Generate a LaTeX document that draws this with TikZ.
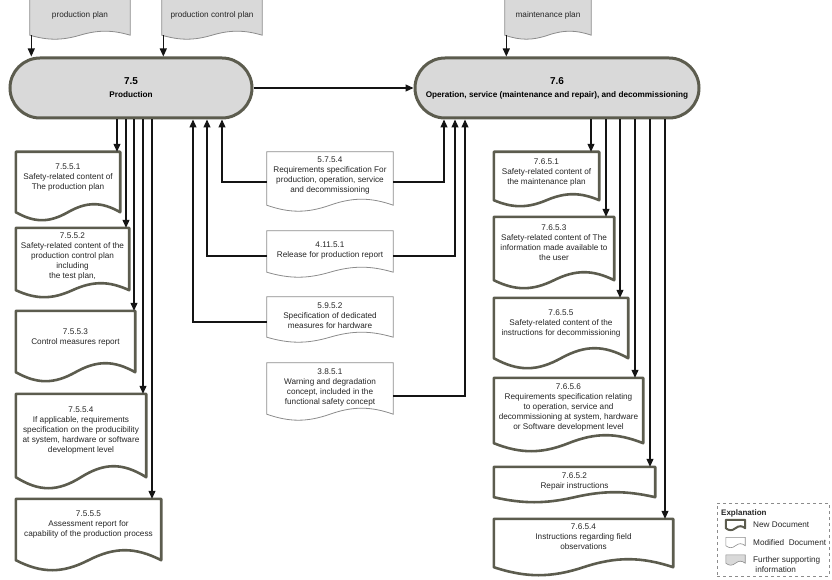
\documentclass[tikz,border=0pt]{standalone}
\usepackage{fontspec}
\setmainfont{Liberation Sans}
\usetikzlibrary{arrows.meta,calc,backgrounds}
\definecolor{newb}{RGB}{92,92,78}
\definecolor{boxfill}{RGB}{217,217,217}
\definecolor{modb}{RGB}{140,140,140}
\definecolor{txt}{RGB}{38,38,38}
\definecolor{linec}{RGB}{20,20,20}
% #1 style, #2 node, #3 drop below node south, #4 wave amplitude
\newcommand\docshape[4]{%
 \draw[#1] ($(#2.south west)+(0,#3)$) -- (#2.north west) -- (#2.north east) -- ($(#2.south east)+(0,#3)$)
 .. controls ($(#2.south east)!0.18!(#2.south west)+(0,{#3-1.333*#4})$)
 and ($(#2.south east)!0.32!(#2.south west)+(0,{#3-1.333*#4})$)
 .. ($(#2.south)+(0,#3)$)
 .. controls ($(#2.south east)!0.68!(#2.south west)+(0,{#3+1.333*#4})$)
 and ($(#2.south east)!0.82!(#2.south west)+(0,{#3+1.333*#4})$)
 .. ($(#2.south west)+(0,#3)$) -- cycle;}
\tikzset{
 doc/.style={rectangle, inner sep=0pt, align=center, font=\fontsize{8.2}{10}\selectfont, text=txt},
 newdoc/.style={draw=newb, line width=2.6pt, fill=white, line join=round},
 moddoc/.style={draw=modb, line width=0.8pt, fill=white},
 plandoc/.style={draw=modb, line width=0.8pt, fill=boxfill},
 phase/.style={rectangle, rounded corners=30pt, draw=newb, line width=3pt, fill=boxfill,
   minimum height=60pt, align=center, text=black, inner sep=0pt,
   font=\fontsize{8.2}{13}\selectfont\bfseries},
 arr/.style={draw=linec, line width=1.1pt, -{Triangle[length=8pt,width=7pt]}},
 legtext/.style={anchor=west, align=left, inner sep=0pt, text=txt, font=\fontsize{8.2}{10}\selectfont},
}
\begin{document}
\begin{tikzpicture}[x=1pt,y=-1pt]
\useasboundingbox (0,0) rectangle (832,580);

% supporting plans
\node[doc, minimum width=100pt, minimum height=40pt] (pp) at (80,15) {production plan};
\node[doc, minimum width=100pt, minimum height=40pt] (pcp) at (212,15) {production control plan};
\node[doc, minimum width=86pt, minimum height=40pt] (mp) at (548,15) {maintenance plan};

% phases
\node[phase, minimum width=242pt] (p75) at (131,88) {{\fontsize{10}{12}\selectfont 7.5}\\Production};
\node[phase, minimum width=284pt] (p76) at (557,88) {{\fontsize{10}{12}\selectfont 7.6}\\Operation, service (maintenance and repair), and decommissioning};

% left documents
\node[doc, minimum width=104pt, minimum height=51pt] (d7551) at (68,177.5) {7.5.5.1\\Safety-related content of\\The production plan};
\node[doc, minimum width=113pt, minimum height=56pt] (d7552) at (72.5,256) {7.5.5.2\\Safety-related content of the\\production control plan\\including\\the test plan,};
\node[doc, minimum width=119pt, minimum height=53pt] (d7553) at (75.5,337.5) {7.5.5.3\\Control measures report};
\node[doc, minimum width=130pt, minimum height=74pt] (d7554) at (81,431) {7.5.5.4\\If applicable, requirements\\specification on the producibility\\at system, hardware or software\\development level};
\node[doc, minimum width=145pt, minimum height=52pt] (d7555) at (88.5,525) {7.5.5.5\\Assessment report for\\capability of the production process};

% middle documents
\node[doc, minimum width=126pt, minimum height=47pt] (d5754) at (330,175.5) {5.7.5.4\\Requirements specification For\\production, operation, service\\and decommissioning};
\node[doc, minimum width=126pt, minimum height=39pt] (d41151) at (330,250.5) {4.11.5.1\\Release for production report};
\node[doc, minimum width=126pt, minimum height=38pt] (d5952) at (330,316) {5.9.5.2\\Specification of dedicated\\measures for hardware};
\node[doc, minimum width=126pt, minimum height=48pt] (d3851) at (330,387) {3.8.5.1\\Warning and degradation\\concept, included in the\\functional safety concept};

% right documents
\node[doc, minimum width=105pt, minimum height=40pt] (d7651) at (546.5,172) {7.6.5.1\\Safety-related content of\\the maintenance plan};
\node[doc, minimum width=120pt, minimum height=52pt] (d7653) at (554,243) {7.6.5.3\\Safety-related content of The\\information made available to\\the user};
\node[doc, minimum width=134pt, minimum height=50pt] (d7655) at (561,323) {7.6.5.5\\Safety-related content of the\\instructions for decommissioning};
\node[doc, minimum width=149pt, minimum height=58pt] (d7656) at (568.5,407) {7.6.5.6\\Requirements specification relating\\to operation, service and\\decommissioning at system, hardware\\or Software development level};
\node[doc, minimum width=161pt, minimum height=28pt] (d7652) at (574.5,481) {7.6.5.2\\Repair instructions};
\node[doc, minimum width=179pt, minimum height=36pt] (d7654) at (583.5,537) {7.6.5.4\\Instructions regarding field\\observations};

% legend
\node[draw=modb, dashed, line width=0.8pt, minimum width=112pt, minimum height=73pt, inner sep=0pt] (leg) at (773,539.5) {};
\node[legtext, font=\fontsize{8}{9}\selectfont\bfseries] (legt) at (721,513) {Explanation};
\node[doc, minimum width=19pt, minimum height=8pt] (i1) at (735.5,524) {};
\node[doc, minimum width=19pt, minimum height=8pt] (i2) at (735.5,541.5) {};
\node[doc, minimum width=19pt, minimum height=8pt] (i3) at (735.5,559) {};
\node[legtext] (l1) at (753,524.5) {New Document};
\node[legtext] (l2) at (753,542.5) {Modified\ \ Document};
\node[legtext] (l3) at (753,565) {Further supporting\\\ information};

\begin{scope}[on background layer]
 \docshape{plandoc}{pp}{0}{4}
 \docshape{plandoc}{pcp}{0}{4}
 \docshape{plandoc}{mp}{0}{4}
 \docshape{newdoc}{d7551}{9}{8}
 \docshape{newdoc}{d7552}{6}{7}
 \docshape{newdoc}{d7553}{8}{9}
 \docshape{newdoc}{d7554}{9}{11}
 \docshape{newdoc}{d7555}{9}{10}
 \docshape{moddoc}{d5754}{6}{6}
 \docshape{moddoc}{d41151}{2}{5}
 \docshape{moddoc}{d5952}{2}{5}
 \docshape{moddoc}{d3851}{3}{6}
 \docshape{newdoc}{d7651}{8}{6}
 \docshape{newdoc}{d7653}{11}{8}
 \docshape{newdoc}{d7655}{10}{10}
 \docshape{newdoc}{d7656}{7}{8}
 \docshape{newdoc}{d7652}{2}{5}
 \docshape{newdoc}{d7654}{12}{8}
 \docshape{newdoc,line width=2pt}{i1}{0}{2}
 \docshape{moddoc,line width=0.6pt}{i2}{0}{2}
 \docshape{plandoc,line width=0.6pt}{i3}{0}{2}
\end{scope}

% plan inputs
\coordinate (ppa) at ([xshift=1.5pt]pp.south west);
\coordinate (pcpa) at ([xshift=1.5pt]pcp.south west);
\coordinate (mpa) at ([xshift=1.5pt]mp.south west);
\draw[arr] (ppa) -- (ppa |- p75.north);
\draw[arr] (pcpa) -- (pcpa |- p75.north);
\draw[arr] (mpa) -- (mpa |- p76.north);

% 7.5 -> 7.6
\draw[arr] (p75.east) -- (p76.west);

% 7.5 outputs
\draw[arr] (117,0 |- p75.south) -- (117,0 |- d7551.north);
\draw[arr] (126,0 |- p75.south) -- (126,0 |- d7552.north);
\draw[arr] (134,0 |- p75.south) -- (134,0 |- d7553.north);
\draw[arr] (143,0 |- p75.south) -- (143,0 |- d7554.north);
\draw[arr] (152,0 |- p75.south) -- (152,0 |- d7555.north);

% 7.6 outputs
\draw[arr] (591,0 |- p76.south) -- (591,0 |- d7651.north);
\draw[arr] (606,0 |- p76.south) -- (606,0 |- d7653.north);
\draw[arr] (620,0 |- p76.south) -- (620,0 |- d7655.north);
\draw[arr] (635,0 |- p76.south) -- (635,0 |- d7656.north);
\draw[arr] (650,0 |- p76.south) -- (650,0 |- d7652.north);
\draw[arr] (665,0 |- p76.south) -- (665,0 |- d7654.north);

% inputs from other phases
\draw[arr] (d5754.west |- 0,182) -| (p75.south -| 222,0);
\draw[arr] (d5754.east |- 0,182) -| (p76.south -| 444,0);
\draw[arr] (d41151.west |- 0,256) -| (p75.south -| 207,0);
\draw[arr] (d41151.east |- 0,256) -| (p76.south -| 455,0);
\draw[arr] (d5952.west |- 0,322) -| (p75.south -| 193,0);
\draw[arr] (d3851.east |- 0,396) -| (p76.south -| 465,0);
\end{tikzpicture}
\end{document}
